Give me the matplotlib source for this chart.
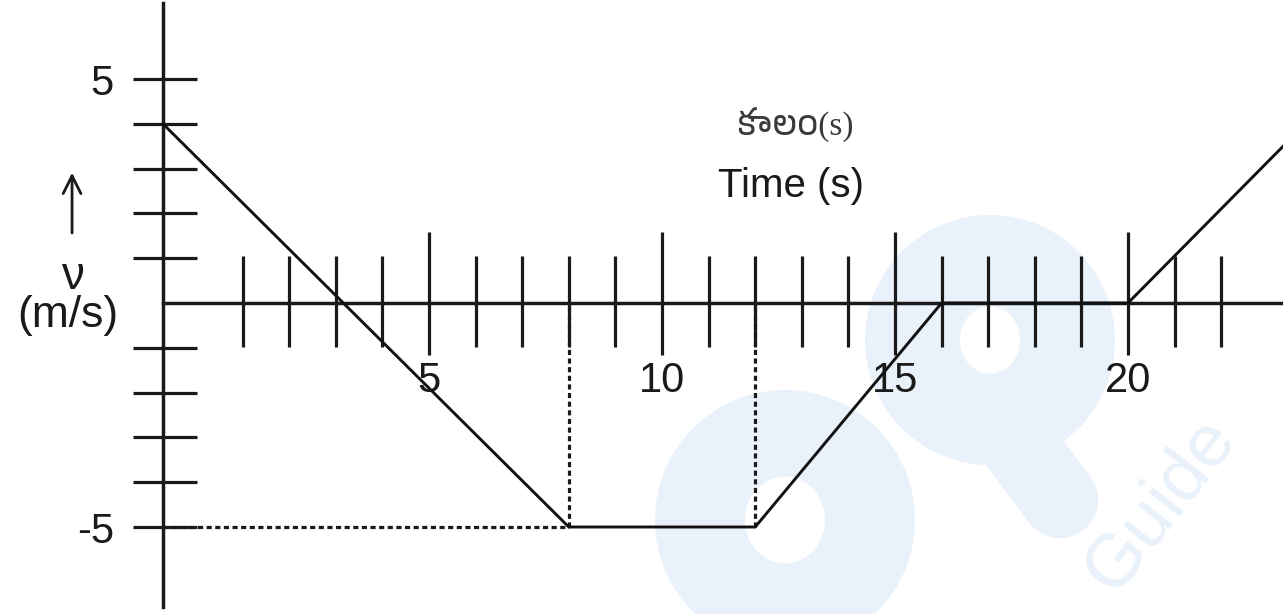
import numpy as np
import matplotlib
matplotlib.use("Agg")
import matplotlib.pyplot as plt
from matplotlib import font_manager
from matplotlib.ft2font import FT2Font
from matplotlib.patches import Annulus

# velocity-time data
time_s = [-0.71, 8, 12, 16, 20, 23.33]
velocity = [4, -5, -5, 0, 0, 3.5]

x_ticks = list(range(1, 23))
x_major = [5, 10, 15, 20]
y_ticks = [-5, -4, -3, -2, -1, 1, 2, 3, 4, 5]
y_labels = [-5, 5]

title_te = "కాలం(s)"
title_en = "Time (s)"
ylabel_sym = "ν"
ylabel_unit = "(m/s)"

# pixel layout of the reference (1283 x 614)
W, H = 1283, 614
X0, PX_T = 196, 46.6      # pixel of t=0, pixels per second
Y0, PX_V = 303, 44.8      # pixel of v=0, pixels per m/s
y_axis_t = time_s[0]

LABEL_FONT = ["Liberation Sans Narrow", "Liberation Sans", "DejaVu Sans"]
TEXT_FONT = ["Liberation Sans", "DejaVu Sans"]
WM = "#e9f1fb"
INK = "#1a1a1a"


def find_font(ch):
    """Name of an installed font with a glyph for ch, real Telugu fonts first."""
    found = []
    for f in font_manager.fontManager.ttflist:
        try:
            if ord(ch) in FT2Font(f.fname).get_charmap():
                found.append(f.name)
        except Exception:
            pass
    found.sort(key=lambda n: ("telugu" not in n.lower(), "unifont" in n.lower()))
    return found[0] if found else None


te_font = find_font("క")
# latin "(s)" from a serif face, telugu letters from whatever font has them
te_family = ["Liberation Serif"] + ([te_font] if te_font else []) + ["DejaVu Sans"]

fig = plt.figure(figsize=(W / 100, H / 100), dpi=100)
ax = fig.add_axes([0, 0, 1, 1])
ax.set_xlim(-X0 / PX_T, (W - X0) / PX_T)
ax.set_ylim(-(H - Y0) / PX_V, Y0 / PX_V)
ax.axis("off")

# faint watermark
ax.add_patch(Annulus(((990 - X0) / PX_T, (Y0 - 340) / PX_V),
                     (125 / PX_T, 125 / PX_V), 95 / PX_T,
                     color=WM, zorder=0, lw=0))
ax.plot([(1000 - X0) / PX_T, (1060 - X0) / PX_T],
        [(Y0 - 420) / PX_V, (Y0 - 500) / PX_V],
        color=WM, lw=55, solid_capstyle="round", zorder=0)
ax.add_patch(Annulus(((785 - X0) / PX_T, (Y0 - 520) / PX_V),
                     (130 / PX_T, 130 / PX_V), 90 / PX_T,
                     color=WM, zorder=0, lw=0))
ax.text((1160 - X0) / PX_T, (Y0 - 505) / PX_V, "Guide", rotation=52,
        fontsize=54, color=WM, ha="center", va="center",
        family=TEXT_FONT, zorder=0)

# axes lines
ax.plot([y_axis_t, y_axis_t], [-(607 - Y0) / PX_V, (Y0 - 3) / PX_V],
        color=INK, lw=2.5, zorder=2)
ax.plot([y_axis_t, (W - X0) / PX_T], [0, 0], color=INK, lw=2.5, zorder=2)

# tick marks
short_ticks = [t for t in x_ticks if t not in x_major]
ax.vlines(short_ticks, -0.98, 1.05, color=INK, lw=2.3, zorder=2)
ax.vlines(x_major, -1.16, 1.58, color=INK, lw=2.3, zorder=2)
ax.hlines(y_ticks, y_axis_t - 0.64, y_axis_t + 0.73, color=INK,
          lw=2.3, zorder=2)

for t in x_major:
    ax.text(t, -1.99, str(t), ha="center", va="baseline", fontsize=30,
            family=LABEL_FONT, color=INK)
for v in y_labels:
    ax.text((114 - X0) / PX_T, v - 0.35, str(v), ha="right", va="baseline",
            fontsize=30, family=LABEL_FONT, color=INK)

# dotted guides
ax.vlines([time_s[1], time_s[2]], velocity[1], 0, color=INK, lw=2.3,
          linestyles=[(0, (1.6, 1.1))], zorder=2)
ax.hlines(velocity[1], y_axis_t, time_s[1], color=INK, lw=2.3,
          linestyles=[(0, (1.6, 1.1))], zorder=2)

# the graph
ax.plot(time_s, velocity, color="#111111", lw=2.1, zorder=3,
        solid_joinstyle="miter")

# labels
ax.text(12.85, 3.97, title_te, ha="center", va="center", fontsize=24,
        family=te_family, color="#3a3a3a")
ax.text(12.77, 2.62, title_en, ha="center", va="center", fontsize=29,
        family=TEXT_FONT, color=INK)

ax.annotate("", xy=(-2.66, 2.97), xytext=(-2.66, 1.50),
            arrowprops=dict(arrowstyle="->", lw=2.0, color=INK,
                            mutation_scale=32))
ax.text(-2.66, 0.58, ylabel_sym, ha="center", va="center", fontsize=33,
        family=TEXT_FONT, color=INK)
ax.text(-2.75, -0.29, ylabel_unit, ha="center", va="center", fontsize=32,
        family=TEXT_FONT, color=INK)

fig.savefig("out.png", dpi=100, facecolor="white")
